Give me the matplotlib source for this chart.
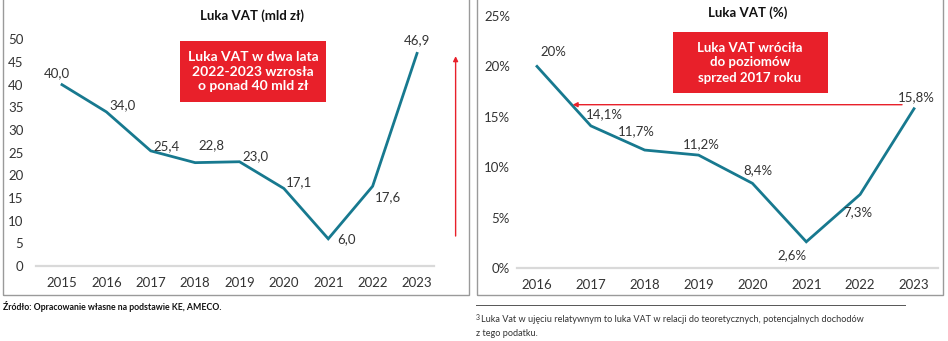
import matplotlib
matplotlib.use('Agg')
import matplotlib.pyplot as plt
from matplotlib.patches import Rectangle
from matplotlib.lines import Line2D

# dane - luka VAT w mld zl
years_abs = [2015, 2016, 2017, 2018, 2019, 2020, 2021, 2022, 2023]
gap_bn = [40.0, 34.0, 25.4, 22.8, 23.0, 17.1, 6.0, 17.6, 46.9]
labels_bn = ['40,0', '34,0', '25,4', '22,8', '23,0', '17,1', '6,0', '17,6', '46,9']

# dane - luka VAT w %
years_pct = [2016, 2017, 2018, 2019, 2020, 2021, 2022, 2023]
gap_pct = [20.0, 14.1, 11.7, 11.2, 8.4, 2.6, 7.3, 15.8]
labels_pct = ['20%', '14,1%', '11,7%', '11,2%', '8,4%', '2,6%', '7,3%', '15,8%']

ticks_bn = [0, 5, 10, 15, 20, 25, 30, 35, 40, 45, 50]
ticks_pct = [0, 5, 10, 15, 20, 25]

W, H = 948, 341
TEAL = '#17798f'
RED = '#e8202a'
TXT = '#333333'
FONT = 'Lato'

plt.rcParams['font.family'] = [FONT, 'DejaVu Sans']


def px(x0, y0, x1, y1):
    # piksele (od gory) -> ulamki figury
    return [x0 / W, 1 - y1 / H, (x1 - x0) / W, (y1 - y0) / H]


# przesuniecia etykiet w pikselach (dx, dy w dol)
off_bn = [(-5, -12), (16, -7), (16, -5), (16, -17), (16, -6), (15, -6), (18, 0), (15, 11), (0, -13)]
off_pct = [(16, -14), (14, -12), (-8, -19), (3, -11), (6, -13), (-14, 13), (-2, 18), (2, -12)]

fig = plt.figure(figsize=(W / 100, H / 100), dpi=100)

# ramki paneli
for x0, x1 in [(3, 469), (477, 943)]:
    fig.patches.append(Rectangle((x0 / W, 1 - 295 / H), (x1 - x0) / W, 300 / H,
                                 transform=fig.transFigure, fill=False,
                                 edgecolor='#9a9a9a', linewidth=1.0))


def style_axes(ax, ticks, ticklabels, ypad):
    for s in ['top', 'right', 'left']:
        ax.spines[s].set_visible(False)
    ax.spines['bottom'].set_color('#d9d9d9')
    ax.spines['bottom'].set_linewidth(1.6)
    ax.set_yticks(ticks)
    ax.set_yticklabels(ticklabels)
    ax.tick_params(axis='both', length=0, labelsize=9.5, labelcolor=TXT)
    ax.tick_params(axis='x', pad=8)
    ax.tick_params(axis='y', pad=ypad)
    ax.patch.set_visible(False)


# lewy panel
ax1 = fig.add_axes(px(36, 30, 434, 266))
ax1.plot(years_abs, gap_bn, color=TEAL, linewidth=2.0, solid_joinstyle='miter')
ax1.set_xlim(2015 - 26 / 44.4, 2023 + 17 / 44.4)
ax1.set_ylim(0, 236 / 4.533)
ax1.set_xticks(years_abs)
style_axes(ax1, ticks_bn, [str(t) for t in ticks_bn], 9)
for x, y, lab, (dx, dy) in zip(years_abs, gap_bn, labels_bn, off_bn):
    ax1.annotate(lab, (x, y), xytext=(dx * 0.72, -dy * 0.72), textcoords='offset points',
                 ha='center', va='center', fontsize=9.5, color=TXT)
ax1.annotate('', xy=(2023.87, max(gap_bn)), xytext=(2023.87, min(gap_bn)),
             arrowprops=dict(arrowstyle='-|>', color=RED, lw=1.0, mutation_scale=7),
             annotation_clip=False)
fig.text(252 / W, 1 - 16 / H, 'Luka VAT (mld zł)', ha='center', va='center',
         fontsize=9.5, fontweight='bold', color='#111111')
fig.patches.append(Rectangle((180 / W, 1 - 102 / H), 146 / W, 61 / H, transform=fig.transFigure,
                             facecolor=RED, edgecolor='none'))
fig.text(253 / W, 1 - 71.5 / H, 'Luka VAT w dwa lata\n2022-2023 wzrosła\no ponad 40 mld zł',
         ha='center', va='center', fontsize=10, fontweight='bold', color='white', linespacing=1.25)

# prawy panel
ax2 = fig.add_axes(px(517, 10, 938, 268))
ax2.plot(years_pct, gap_pct, color=TEAL, linewidth=2.0, solid_joinstyle='miter')
ax2.set_xlim(2016 - 20 / 53.86, 2023 + 24 / 53.86)
ax2.set_ylim(0, 258 / 10.08)
ax2.set_xticks(years_pct)
style_axes(ax2, ticks_pct, [f'{t}%' for t in ticks_pct], 5)
for x, y, lab, (dx, dy) in zip(years_pct, gap_pct, labels_pct, off_pct):
    ax2.annotate(lab, (x, y), xytext=(dx * 0.72, -dy * 0.72), textcoords='offset points',
                 ha='center', va='center', fontsize=9.5, color=TXT)
ax2.annotate('', xy=(2016.61, 16.2), xytext=(2022.83, 16.2),
             arrowprops=dict(arrowstyle='-|>', color=RED, lw=1.0, mutation_scale=7))
fig.text(748 / W, 1 - 13 / H, 'Luka VAT (%)', ha='center', va='center',
         fontsize=9.5, fontweight='bold', color='#111111')
fig.patches.append(Rectangle((673 / W, 1 - 93 / H), 155 / W, 61 / H, transform=fig.transFigure,
                             facecolor=RED, edgecolor='none'))
fig.text(750 / W, 1 - 62.5 / H, 'Luka VAT wróciła\ndo poziomów\nsprzed 2017 roku',
         ha='center', va='center', fontsize=9.5, fontweight='bold', color='white', linespacing=1.3)

# stopka
fig.text(3 / W, 1 - 306 / H, 'Źródło: Opracowanie własne na podstawie KE, AMECO.',
         ha='left', va='center', fontsize=6.3, fontweight='bold', color='#111111')
fig.lines.append(Line2D([476 / W, 905 / W], [1 - 305 / H, 1 - 305 / H], transform=fig.transFigure,
                        color='#555555', linewidth=0.7))
fig.text(476 / W, 1 - 317 / H, '3', ha='left', va='center', fontsize=5, color='#333333')
fig.text(481 / W, 1 - 320 / H,
         'Luka Vat w ujęciu relatywnym to luka VAT w relacji do teoretycznych, potencjalnych dochodów',
         ha='left', va='center', fontsize=6.6, color='#333333')
fig.text(476 / W, 1 - 333 / H, 'z tego podatku.', ha='left', va='center', fontsize=6.6,
         color='#333333')

fig.savefig('out.png', dpi=100)
